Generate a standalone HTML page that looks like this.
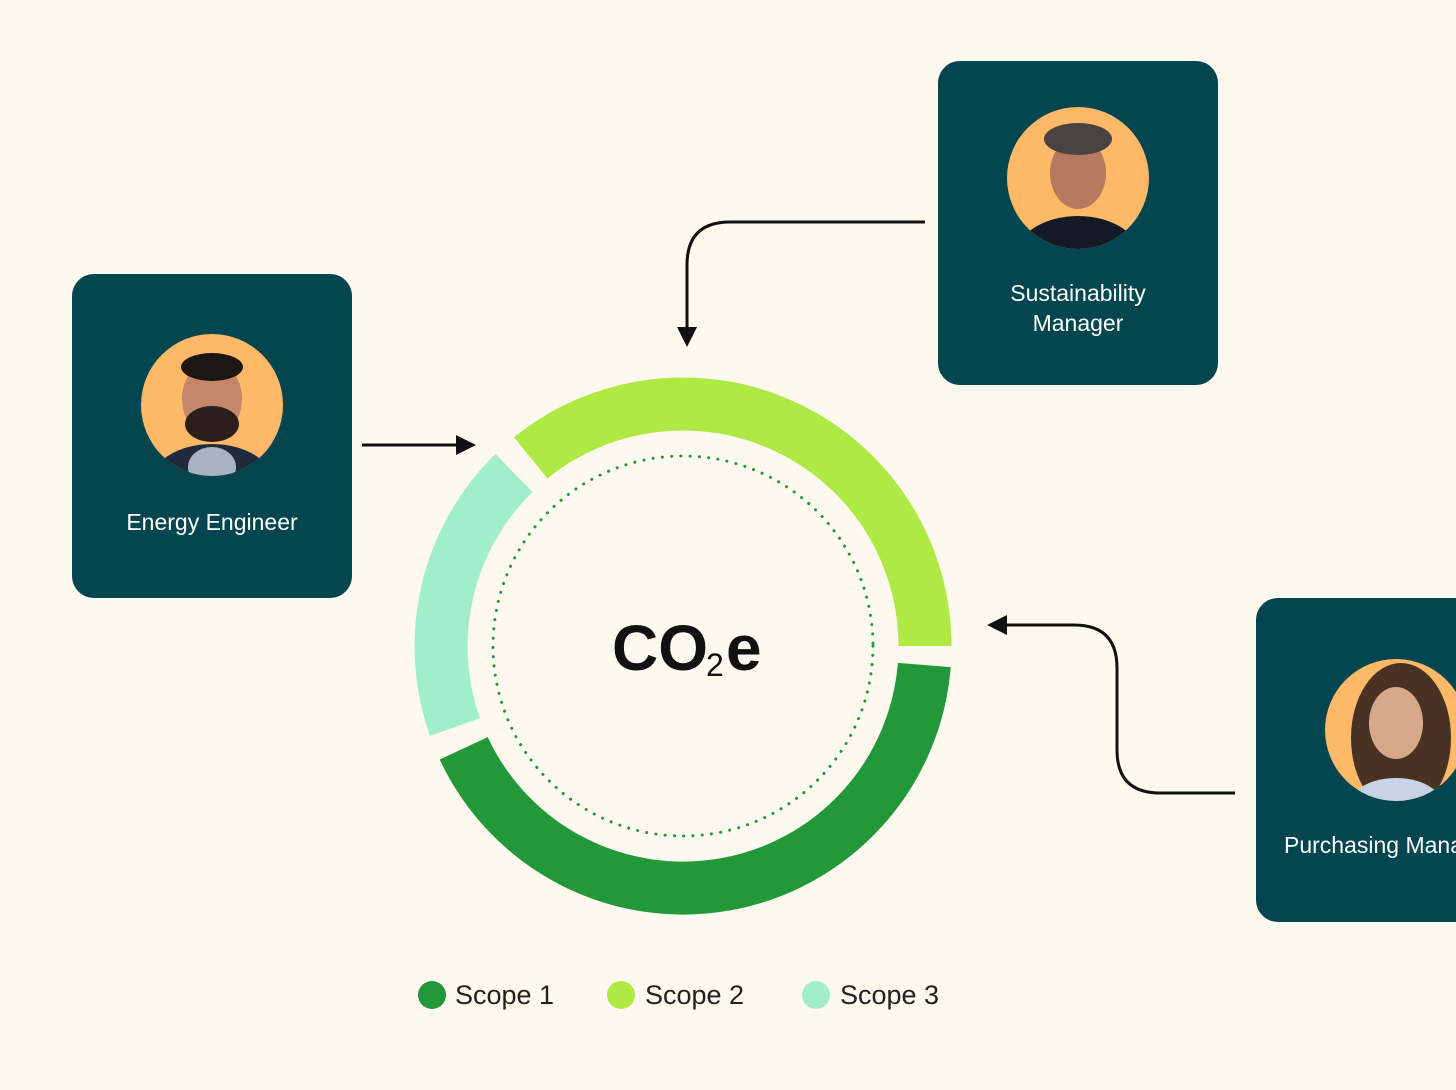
<!DOCTYPE html>
<html><head><meta charset="utf-8"><style>
html,body{margin:0;padding:0;background:#fdf9ee;}
body{width:1456px;height:1090px;overflow:hidden;position:relative;font-family:"Liberation Sans",sans-serif;}
.card{position:absolute;width:280px;height:324px;background:#03464f;border-radius:22px;}
.lbl{position:absolute;left:0;width:280px;text-align:center;color:#fff;font-size:23px;line-height:30px;}
</style></head><body>
<svg width="1456" height="1090" style="position:absolute;left:0;top:0">
  <!-- ring -->
  <g fill="none" stroke-width="53">
    <path d="M530.7 457.9 A242 242 0 0 1 925 646" stroke="#aee944"/>
    <path d="M924.3 665 A242 242 0 0 1 463.7 748.3" stroke="#23983b"/>
    <path d="M455 727 A242 242 0 0 1 514 473" stroke="#a0eecb"/>
  </g>
  <circle cx="683" cy="646" r="190" fill="none" stroke="#23983b" stroke-width="3" stroke-dasharray="0.1 9.2" stroke-linecap="round"/>
  <text x="612" y="670" font-size="64" font-weight="bold" fill="#111" font-family="Liberation Sans,sans-serif">CO</text>
  <text x="706" y="676" font-size="32" fill="#111" font-family="Liberation Sans,sans-serif">2</text>
  <text x="726" y="670" font-size="64" font-weight="bold" fill="#111" font-family="Liberation Sans,sans-serif">e</text>
  <!-- arrows -->
  <g fill="none" stroke="#111" stroke-width="3">
    <path d="M362 445 H462"/>
    <path d="M925 222 H730 Q687 222 687 265 V332"/>
    <path d="M1235 793 H1160 Q1117 793 1117 750 V668 Q1117 625 1074 625 H1002"/>
  </g>
  <g fill="#111">
    <path d="M476 445 L456 435 L456 455 Z"/>
    <path d="M687 347 L677 327 L697 327 Z"/>
    <path d="M987 625 L1007 615 L1007 635 Z"/>
  </g>
  <!-- legend -->
  <circle cx="432" cy="995" r="14" fill="#23983b"/>
  <circle cx="621" cy="995" r="14" fill="#aee944"/>
  <circle cx="816" cy="995" r="14" fill="#a0eecb"/>
  <g font-size="27" fill="#222" font-family="Liberation Sans,sans-serif">
    <text x="455" y="1004">Scope 1</text>
    <text x="645" y="1004">Scope 2</text>
    <text x="840" y="1004">Scope 3</text>
  </g>
</svg>
<div class="card" style="left:72px;top:274px">
  <svg width="280" height="220" style="position:absolute;left:0;top:0">
    <circle cx="140" cy="131" r="71" fill="#fdb868"/>
    <clipPath id="a1"><circle cx="140" cy="131" r="71"/></clipPath>
    <g clip-path="url(#a1)"><ellipse cx="140" cy="210" rx="62" ry="40" fill="#1f2a3a"/><ellipse cx="140" cy="193" rx="24" ry="20" fill="#a8b4c4"/><ellipse cx="140" cy="125" rx="30" ry="38" fill="#c4876a"/><ellipse cx="140" cy="150" rx="27" ry="18" fill="#2a1f1a"/><ellipse cx="140" cy="93" rx="31" ry="14" fill="#1d1612"/></g>
  </svg>
  <div class="lbl" style="top:233px">Energy Engineer</div>
</div>
<div class="card" style="left:938px;top:61px">
  <svg width="280" height="220" style="position:absolute;left:0;top:0">
    <circle cx="140" cy="117" r="71" fill="#fdb868"/>
    <clipPath id="a2"><circle cx="140" cy="117" r="71"/></clipPath>
    <g clip-path="url(#a2)"><ellipse cx="140" cy="195" rx="62" ry="40" fill="#141a24"/><ellipse cx="140" cy="112" rx="28" ry="36" fill="#b77a60"/><ellipse cx="140" cy="78" rx="34" ry="16" fill="#4a4440"/></g>
  </svg>
  <div class="lbl" style="top:217px">Sustainability<br>Manager</div>
</div>
<div class="card" style="left:1256px;top:598px;width:300px">
  <svg width="280" height="220" style="position:absolute;left:0;top:0">
    <circle cx="140" cy="132" r="71" fill="#fdb868"/>
    <clipPath id="a3"><circle cx="140" cy="132" r="71"/></clipPath>
    <g clip-path="url(#a3)"><ellipse cx="145" cy="140" rx="50" ry="75" fill="#4a3222"/><ellipse cx="140" cy="125" rx="27" ry="36" fill="#d8a88a"/><ellipse cx="140" cy="205" rx="45" ry="25" fill="#c8d4e4"/></g>
  </svg>
  <div class="lbl" style="top:232px;width:auto;left:28px;white-space:nowrap">Purchasing Manager</div>
</div>
</body></html>
